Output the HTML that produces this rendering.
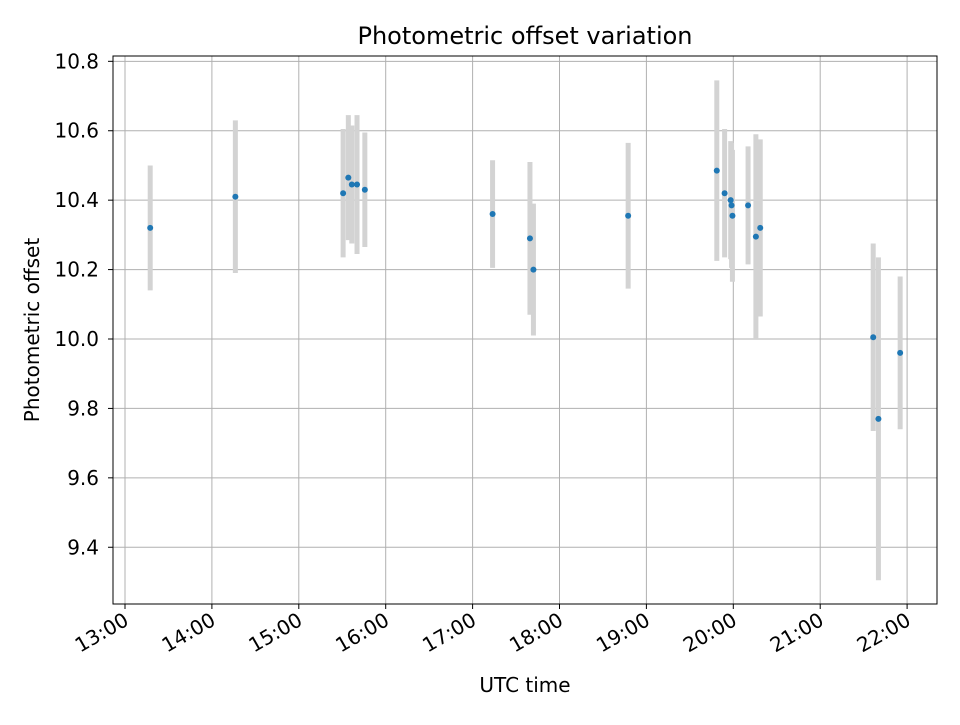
<!DOCTYPE html>
<html><head><meta charset="utf-8"><style>
body{margin:0;background:#fff;}
svg text{font-family:"DejaVu Sans","Liberation Sans",sans-serif;fill:#000;}
</style></head><body>
<svg id="chart" width="960" height="720" xmlns="http://www.w3.org/2000/svg">
<rect width="960" height="720" fill="#fff"/>
<g id="grid"></g>
<g id="errs"></g>
<g id="pts"></g>
<rect x="113" y="56" width="824" height="548" fill="none" stroke="#000" stroke-width="1"/>
<g id="ticks"></g>
<text x="525" y="44" text-anchor="middle" font-size="24">Photometric offset variation</text>
<text x="525" y="692" text-anchor="middle" font-size="20">UTC time</text>
<text x="39" y="330" text-anchor="middle" font-size="20" transform="rotate(-90 39 330)">Photometric offset</text>
</svg>
<script>
const times=[13.29,14.27,15.51,15.57,15.61,15.67,15.76,17.23,17.66,17.70,18.79,19.81,19.90,19.97,19.98,19.99,20.17,20.26,20.31,21.61,21.67,21.92];
const values=[10.32,10.41,10.42,10.465,10.445,10.445,10.43,10.36,10.29,10.20,10.355,10.485,10.42,10.40,10.385,10.355,10.385,10.295,10.32,10.005,9.77,9.96];
const errors=[0.18,0.22,0.185,0.18,0.17,0.2,0.165,0.155,0.22,0.19,0.21,0.26,0.185,0.17,0.18,0.19,0.17,0.295,0.255,0.27,0.465,0.22];
const yTicks=[9.4,9.6,9.8,10.0,10.2,10.4,10.6,10.8];
const xTicks=[13,14,15,16,17,18,19,20,21,22];
const xTickLabels=["13:00","14:00","15:00","16:00","17:00","18:00","19:00","20:00","21:00","22:00"];
const NS="http://www.w3.org/2000/svg";
const X=h=>125+(h-13)*86.9;
const Y=v=>339-(v-10)*347.1;
function mk(tag,attrs,parent){const e=document.createElementNS(NS,tag);for(const k in attrs)e.setAttribute(k,attrs[k]);parent.appendChild(e);return e;}
const grid=document.getElementById('grid'),ticks=document.getElementById('ticks'),errs=document.getElementById('errs'),pts=document.getElementById('pts');
yTicks.forEach(v=>{
 const y=Y(v);
 const g=mk('line',{x1:113,x2:937,y1:y,y2:y,stroke:'#b0b0b0','stroke-width':1},grid);
 
 
 mk('line',{x1:108,x2:113,y1:y,y2:y,stroke:'#000'},ticks);
 const t=mk('text',{x:99,y:y+7,'text-anchor':'end','font-size':20},ticks);
 t.textContent=v.toFixed(1);
 
 
});
xTicks.forEach((h,i)=>{
 const x=X(h);
 const g=mk('line',{x1:x,x2:x,y1:56,y2:604,stroke:'#b0b0b0','stroke-width':1},grid);
 
 
 mk('line',{x1:x,x2:x,y1:604,y2:609,stroke:'#000'},ticks);
 const t=mk('text',{x:x+5,y:624,'text-anchor':'end','font-size':20,transform:`rotate(-30 ${x+5} 624)`},ticks);
 t.textContent=xTickLabels[i];
 
 
});
times.forEach((h,i)=>{
 const x=X(h);
 const e=mk('line',{x1:x,x2:x,y1:Y(values[i]+errors[i]),y2:Y(values[i]-errors[i]),stroke:'#d3d3d3','stroke-width':5},errs);
 
 
});
times.forEach((h,i)=>{
 const c=mk('circle',{cx:X(h),cy:Y(values[i]),r:3,fill:'#1f77b4'},pts);
 
 
});
</script>
</body></html>
